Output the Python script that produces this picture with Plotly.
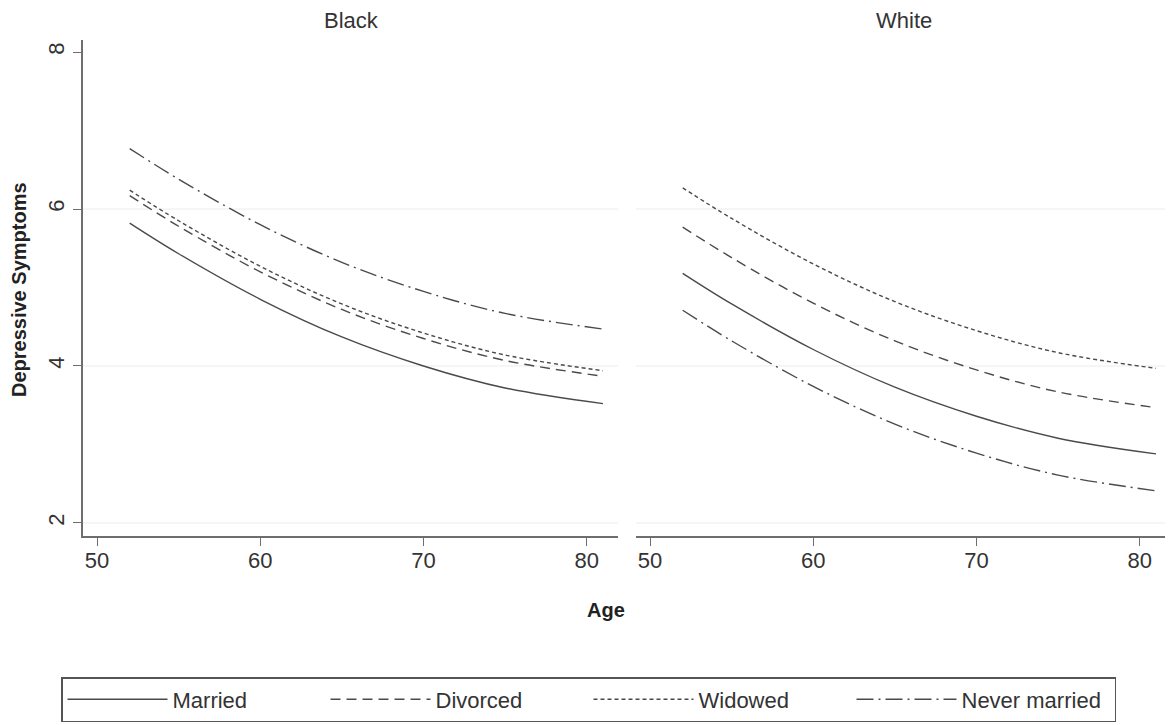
import plotly.graph_objects as go

ages = [52, 55, 60, 65, 70, 75, 81]

black_married = [5.82, 5.43, 4.85, 4.37, 4.00, 3.72, 3.52]
black_divorced = [6.17, 5.78, 5.20, 4.72, 4.35, 4.07, 3.87]
black_widowed = [6.24, 5.85, 5.27, 4.79, 4.42, 4.14, 3.94]
black_never = [6.77, 6.38, 5.80, 5.32, 4.95, 4.67, 4.47]

white_married = [5.18, 4.79, 4.21, 3.73, 3.36, 3.08, 2.88]
white_divorced = [5.77, 5.38, 4.80, 4.32, 3.95, 3.67, 3.47]
white_widowed = [6.27, 5.88, 5.30, 4.82, 4.45, 4.17, 3.97]
white_never = [4.71, 4.32, 3.74, 3.26, 2.89, 2.61, 2.41]

series_names = ["Married", "Divorced", "Widowed", "Never married"]
panel_names = ["Black", "White"]
x_ticks = [50, 60, 70, 80]
y_ticks = [2, 4, 6, 8]
grid_vals = [2, 4, 6]

dashes = ["solid", "10px,6px", "4px,3px", "17px,5px,2px,5px"]
LINE = "#4a4a4a"
AX = "#6e6e6e"
FONT = "Liberation Sans, Arial, sans-serif"
TXT = "#333333"

# page body has an 8px margin; work in screen pixels and convert
OFF = 8
W, H = 1173 - OFF, 725 - OFF


def px(sx):
    return (sx - OFF) / W


def py(sy):
    return 1 - (sy - OFF) / H


fig = go.Figure()

panels = [
    ("x", "y", [black_married, black_divorced, black_widowed, black_never], True),
    ("x2", "y2", [white_married, white_divorced, white_widowed, white_never], False),
]
for xa, ya, vals, show in panels:
    for name, v, d in zip(series_names, vals, dashes):
        fig.add_trace(go.Scatter(
            x=ages, y=v, mode="lines", name=name, xaxis=xa, yaxis=ya,
            line=dict(color=LINE, width=1.4, dash=d, shape="spline"),
            showlegend=show,
        ))

# light gridlines (not at top tick)
for ref in ["", "2"]:
    for g in grid_vals:
        fig.add_shape(type="line", xref="x%s domain" % ref, yref="y%s" % ref,
                      x0=0, x1=1, y0=g, y1=g, layer="below",
                      line=dict(color="#ececec", width=1))

xr = [49.14, 81.92]
yr = [1.834, 8.153]
ydom = [py(536), py(40)]

common_x = dict(range=xr, tickvals=x_ticks, showline=True, linecolor=AX, linewidth=1.6,
                ticks="outside", ticklen=8, tickcolor=AX, tickwidth=1.4,
                ticklabelstandoff=-4,
                tickfont=dict(size=22, color=TXT, family=FONT),
                showgrid=False, zeroline=False)

fig.update_layout(
    width=W, height=H,
    margin=dict(l=0, r=0, t=0, b=0),
    paper_bgcolor="white", plot_bgcolor="white",
    font=dict(family=FONT, color=TXT),
    xaxis=dict(domain=[px(83), px(618)], anchor="y", **common_x),
    xaxis2=dict(domain=[px(636), min(1.0, px(1171))], anchor="y2", **common_x),
    yaxis=dict(domain=ydom, range=yr, tickvals=y_ticks, anchor="x",
               showline=True, linecolor=AX, linewidth=1.6,
               ticks="outside", ticklen=8, tickcolor=AX, tickwidth=1.4,
               tickangle=-90, tickfont=dict(size=22, color=TXT, family=FONT),
               showgrid=False, zeroline=False),
    yaxis2=dict(domain=ydom, range=yr, anchor="x2", matches="y",
                showline=False, showticklabels=False, ticks="",
                showgrid=False, zeroline=False),
    legend=dict(orientation="h", x=px(61), y=py(677), xanchor="left", yanchor="top",
                bordercolor="#555555", borderwidth=1.5, bgcolor="white",
                font=dict(size=22, color=TXT, family=FONT),
                itemwidth=100, entrywidth=148, entrywidthmode="pixels",
                itemclick=False, itemdoubleclick=False),
    annotations=[
        dict(text=panel_names[0], x=px(351), y=py(21), xref="paper", yref="paper",
             xanchor="center", yanchor="middle",
             showarrow=False, font=dict(size=22, color=TXT, family=FONT)),
        dict(text=panel_names[1], x=px(904), y=py(21), xref="paper", yref="paper",
             xanchor="center", yanchor="middle",
             showarrow=False, font=dict(size=22, color=TXT, family=FONT)),
        dict(text="<b>Age</b>", x=px(606), y=py(610), xref="paper", yref="paper",
             xanchor="center", yanchor="middle",
             showarrow=False, font=dict(size=20, color="#222222", family=FONT)),
        dict(text="<b>Depressive Symptoms</b>", x=px(19), y=py(290),
             xref="paper", yref="paper", xanchor="center", yanchor="middle",
             textangle=-90, showarrow=False,
             font=dict(size=20, color="#222222", family=FONT)),
    ],
)

fig.write_html("out.html")
